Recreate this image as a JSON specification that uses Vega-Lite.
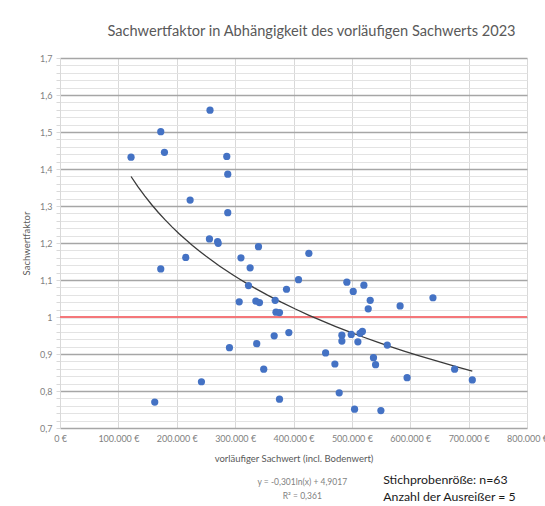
{
  "$schema": "https://vega.github.io/schema/vega-lite/v6.json",
  "width": 467,
  "height": 370,
  "autosize": {"type": "none"},
  "padding": {"left": 60, "top": 58, "right": 18, "bottom": 78},
  "background": "white",
  "config": {"view": {"stroke": null}, "font": "Lato"},
  "title": {
    "text": "Sachwertfaktor in Abhängigkeit des vorläufigen Sachwerts 2023",
    "font": "Lato", "fontSize": 14.6, "fontWeight": "normal", "color": "#595959",
    "anchor": "middle", "dx": 18, "offset": 15
  },
  "resolve": {"axis": {"x": "independent", "y": "independent"}},
  "datasets": {
    "pts": [
      {"x": 121700, "y": 1.432}, {"x": 172600, "y": 1.501}, {"x": 178900, "y": 1.445}, {"x": 172600, "y": 1.130},
      {"x": 222900, "y": 1.316}, {"x": 215400, "y": 1.161}, {"x": 162300, "y": 0.770}, {"x": 257000, "y": 1.559},
      {"x": 285700, "y": 1.434}, {"x": 287400, "y": 1.386}, {"x": 287400, "y": 1.282}, {"x": 256000, "y": 1.211},
      {"x": 270000, "y": 1.204}, {"x": 271000, "y": 1.199}, {"x": 242300, "y": 0.825}, {"x": 290300, "y": 0.917},
      {"x": 310000, "y": 1.160}, {"x": 340000, "y": 1.190}, {"x": 325700, "y": 1.133}, {"x": 322900, "y": 1.085},
      {"x": 307000, "y": 1.041}, {"x": 335500, "y": 1.043}, {"x": 341700, "y": 1.039}, {"x": 349000, "y": 0.859},
      {"x": 337000, "y": 0.928}, {"x": 368600, "y": 1.045}, {"x": 370000, "y": 1.013}, {"x": 376000, "y": 1.012},
      {"x": 366900, "y": 0.949}, {"x": 376000, "y": 0.778}, {"x": 388000, "y": 1.075}, {"x": 392000, "y": 0.958},
      {"x": 408600, "y": 1.101}, {"x": 426300, "y": 1.172}, {"x": 455000, "y": 0.903}, {"x": 470900, "y": 0.873},
      {"x": 478300, "y": 0.795}, {"x": 482900, "y": 0.951}, {"x": 482900, "y": 0.935}, {"x": 491400, "y": 1.094},
      {"x": 502300, "y": 1.069}, {"x": 498900, "y": 0.953}, {"x": 504600, "y": 0.751}, {"x": 510300, "y": 0.933},
      {"x": 514000, "y": 0.956}, {"x": 518000, "y": 0.961}, {"x": 520600, "y": 1.086}, {"x": 531400, "y": 1.045},
      {"x": 528000, "y": 1.022}, {"x": 537000, "y": 0.890}, {"x": 540600, "y": 0.871}, {"x": 549700, "y": 0.747},
      {"x": 560600, "y": 0.924}, {"x": 582600, "y": 1.030}, {"x": 594600, "y": 0.836}, {"x": 638900, "y": 1.052},
      {"x": 676000, "y": 0.859}, {"x": 706300, "y": 0.830}
    ],
    "one": [{"n": 1}]
  },
  "layer": [
    {
      "data": {"name": "pts"},
      "mark": {"type": "circle", "size": 0, "opacity": 0},
      "encoding": {
        "x": {
          "field": "x", "type": "quantitative",
          "scale": {"domain": [0, 800000], "nice": false, "zero": false},
          "axis": {
            "values": [0, 100000, 200000, 300000, 400000, 500000, 600000, 700000, 800000],
            "labelExpr": "datum.value == 0 ? '0 €' : replace(format(datum.value, ','), ',', '.') + ' €'",
            "grid": true, "gridColor": "#d9d9d9", "gridWidth": 1,
            "domain": false, "ticks": false,
            "labelFont": "Lato", "labelFontSize": 9, "labelColor": "#7f7f7f", "labelPadding": 6,
            "labelFlush": false, "labelOverlap": false,
            "title": "vorläufiger Sachwert (incl. Bodenwert)",
            "titleFont": "Lato", "titleFontSize": 9.5, "titleFontWeight": "normal", "titleColor": "#595959",
            "titlePadding": 10
          }
        },
        "y": {
          "field": "y", "type": "quantitative",
          "scale": {"domain": [0.7, 1.7], "nice": false, "zero": false},
          "axis": {
            "values": [0.7, 0.72, 0.74, 0.76, 0.78, 0.8, 0.82, 0.84, 0.86, 0.88, 0.9, 0.92, 0.94, 0.96, 0.98, 1.0, 1.02, 1.04, 1.06, 1.08, 1.1, 1.12, 1.14, 1.16, 1.18, 1.2, 1.22, 1.24, 1.26, 1.28, 1.3, 1.32, 1.34, 1.36, 1.38, 1.4, 1.42, 1.44, 1.46, 1.48, 1.5, 1.52, 1.54, 1.56, 1.58, 1.6, 1.62, 1.64, 1.66, 1.68, 1.7],
            "labelExpr": "abs(datum.value * 10 - round(datum.value * 10)) < 0.01 ? replace(format(datum.value, '.1~f'), '.', ',') : ''",
            "grid": true,
            "gridColor": {"condition": {"test": "abs(datum.value * 10 - round(datum.value * 10)) < 0.01", "value": "#a6a6a6"}, "value": "#e3e3e3"},
            "gridWidth": {"condition": {"test": "abs(datum.value * 10 - round(datum.value * 10)) < 0.01", "value": 1.5}, "value": 1},
            "domain": true, "domainColor": "#d9d9d9",
            "ticks": true, "tickSize": 4, "tickColor": "#d9d9d9",
            "labelFont": "Lato", "labelFontSize": 9, "labelColor": "#7f7f7f", "labelPadding": 4,
            "labelFlush": false, "labelOverlap": false,
            "title": "Sachwertfaktor",
            "titleFont": "Lato", "titleFontSize": 9.5, "titleFontWeight": "normal", "titleColor": "#595959",
            "titlePadding": 8
          }
        }
      }
    },
    {
      "data": {"name": "one"},
      "mark": {"type": "rule", "color": "#f4777a", "strokeWidth": 2},
      "encoding": {"y": {"datum": 1, "type": "quantitative", "axis": null}}
    },
    {
      "data": {"name": "pts"},
      "transform": [{"regression": "y", "on": "x", "method": "log"}],
      "mark": {"type": "line", "color": "#3a3a3a", "strokeWidth": 1.3},
      "encoding": {
        "x": {"field": "x", "type": "quantitative", "axis": null},
        "y": {"field": "y", "type": "quantitative", "axis": null}
      }
    },
    {
      "data": {"name": "pts"},
      "mark": {"type": "circle", "size": 52, "color": "#4472c4", "opacity": 1},
      "encoding": {
        "x": {"field": "x", "type": "quantitative", "axis": null},
        "y": {"field": "y", "type": "quantitative", "axis": null}
      }
    },
    {
      "data": {"name": "one"},
      "mark": {"type": "text", "align": "center", "baseline": "middle", "font": "Lato", "fontSize": 8.5, "color": "#7f7f7f", "lineHeight": 14},
      "encoding": {
        "x": {"datum": 415000, "type": "quantitative", "axis": null},
        "y": {"datum": 0.554, "type": "quantitative", "axis": null},
        "text": {"value": ["y = -0,301ln(x) + 4,9017", "R² = 0,361"]}
      }
    },
    {
      "data": {"name": "one"},
      "mark": {"type": "text", "align": "left", "baseline": "middle", "font": "Lato", "fontSize": 12.3, "color": "#1a1a1a", "lineHeight": 17},
      "encoding": {
        "x": {"datum": 553700, "type": "quantitative", "axis": null},
        "y": {"datum": 0.5595, "type": "quantitative", "axis": null},
        "text": {"value": ["Stichprobenröße: n=63", "Anzahl der Ausreißer = 5"]}
      }
    }
  ]
}
